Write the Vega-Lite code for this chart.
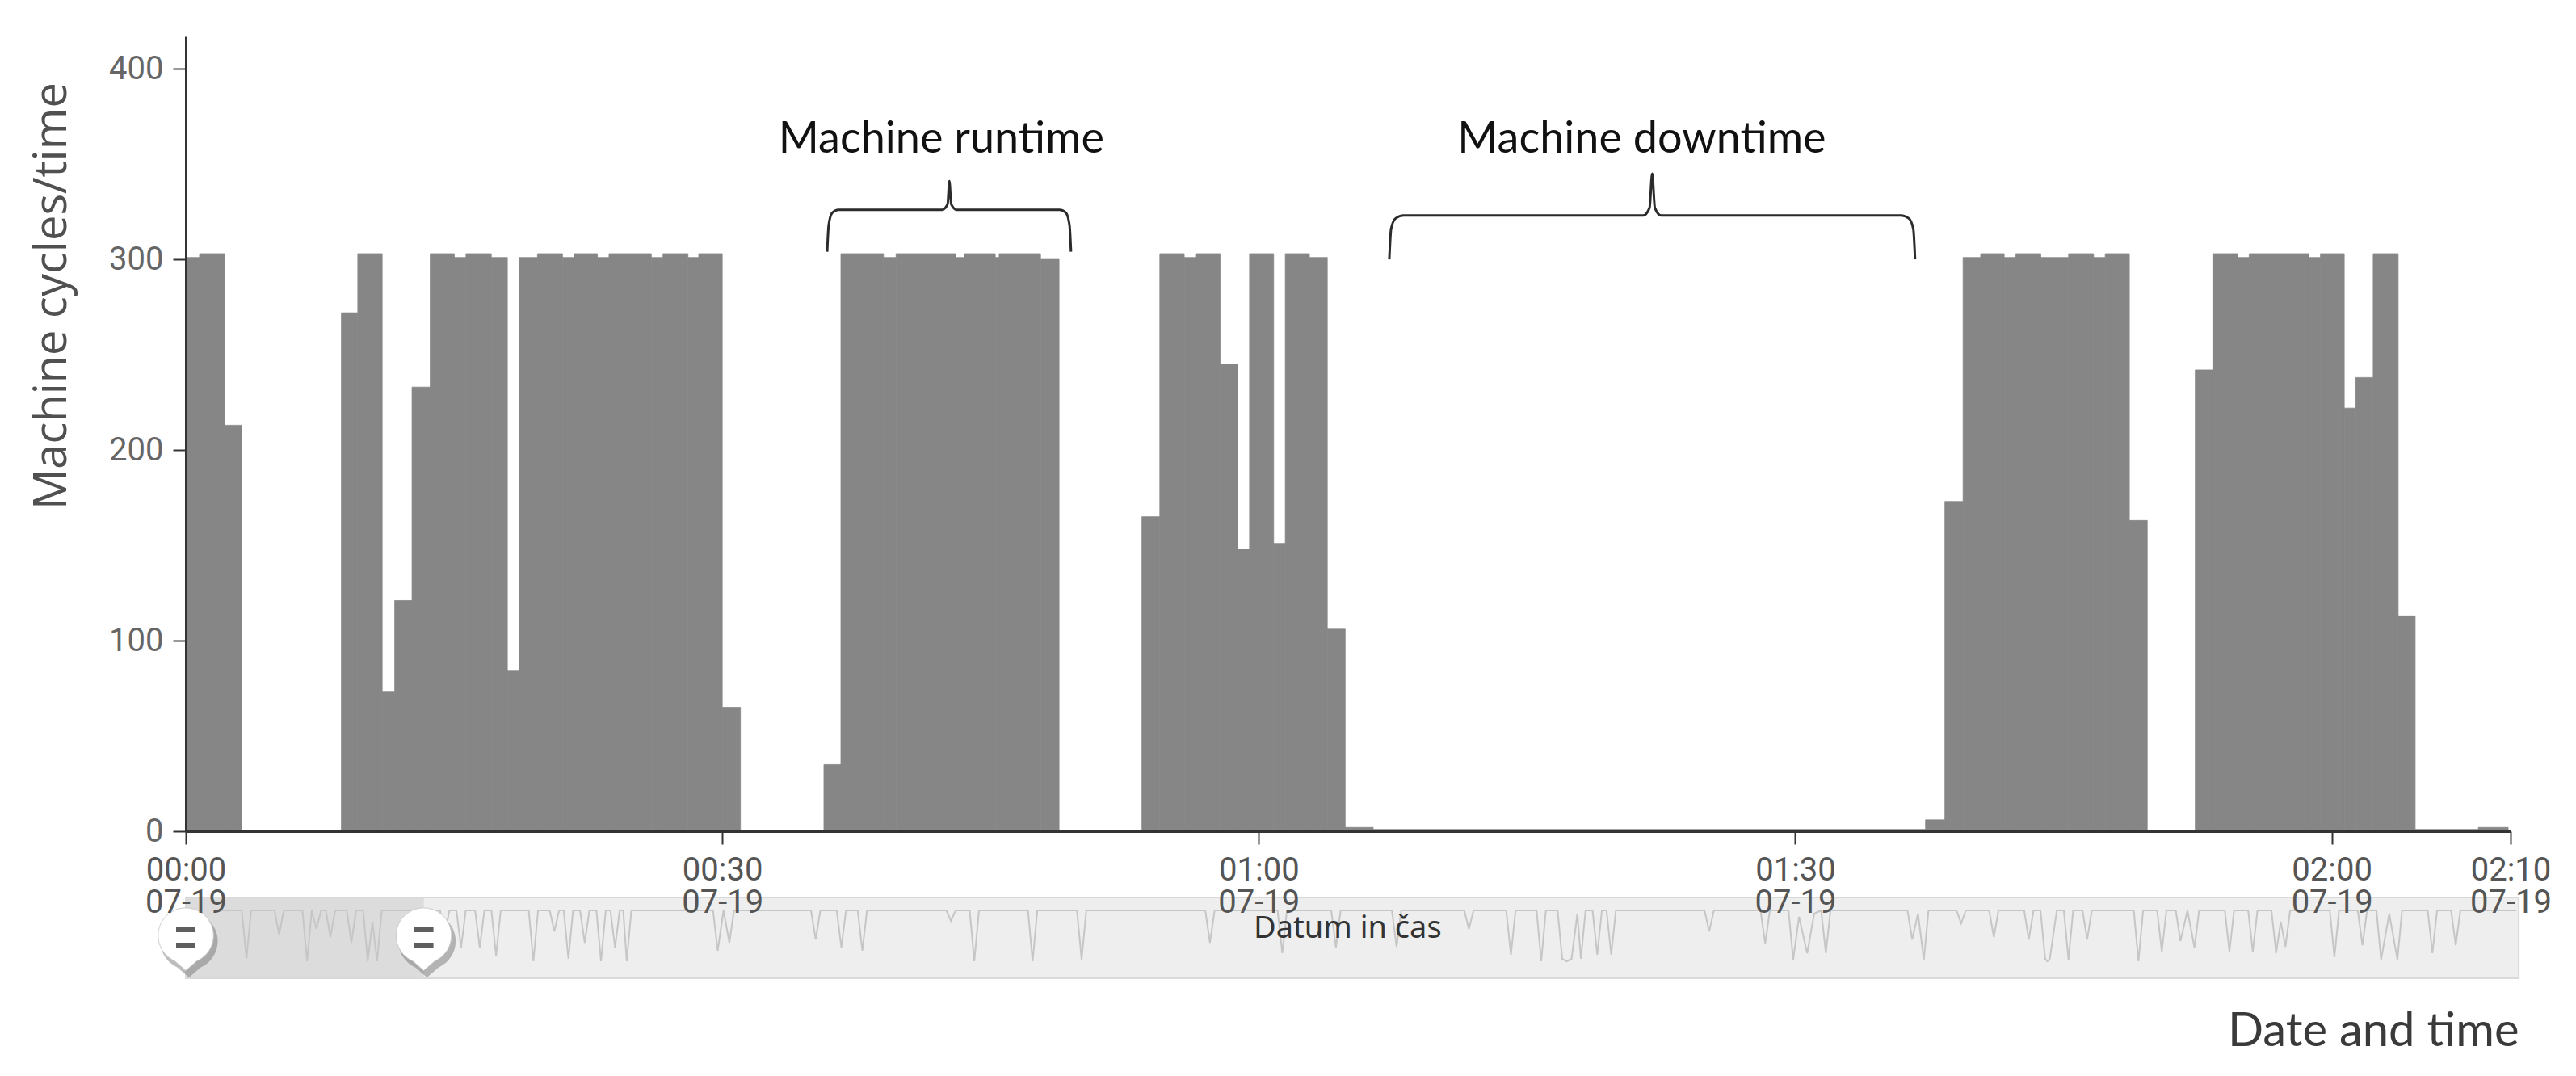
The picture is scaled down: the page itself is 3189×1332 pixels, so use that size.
{
  "$schema": "https://vega.github.io/schema/vega-lite/v6.json",
  "autosize": {"type": "none"},
  "padding": {"left": 230, "top": 45, "right": 81, "bottom": 303},
  "width": 2878,
  "height": 984,
  "background": "white",
  "config": {"view": {"stroke": null}},
  "datasets": {
    "bars": [
      {"start": "2021-07-19T00:00:00", "end": "2021-07-19T00:00:46", "value": 301},
      {"start": "2021-07-19T00:00:46", "end": "2021-07-19T00:02:10", "value": 303},
      {"start": "2021-07-19T00:02:10", "end": "2021-07-19T00:03:08", "value": 213},
      {"start": "2021-07-19T00:08:42", "end": "2021-07-19T00:09:37", "value": 272},
      {"start": "2021-07-19T00:09:37", "end": "2021-07-19T00:10:59", "value": 303},
      {"start": "2021-07-19T00:10:59", "end": "2021-07-19T00:11:41", "value": 73},
      {"start": "2021-07-19T00:11:41", "end": "2021-07-19T00:12:39", "value": 121},
      {"start": "2021-07-19T00:12:39", "end": "2021-07-19T00:13:40", "value": 233},
      {"start": "2021-07-19T00:13:40", "end": "2021-07-19T00:15:01", "value": 303},
      {"start": "2021-07-19T00:15:01", "end": "2021-07-19T00:15:40", "value": 301},
      {"start": "2021-07-19T00:15:40", "end": "2021-07-19T00:17:05", "value": 303},
      {"start": "2021-07-19T00:17:05", "end": "2021-07-19T00:17:59", "value": 301},
      {"start": "2021-07-19T00:17:59", "end": "2021-07-19T00:18:39", "value": 84},
      {"start": "2021-07-19T00:18:39", "end": "2021-07-19T00:19:40", "value": 301},
      {"start": "2021-07-19T00:19:40", "end": "2021-07-19T00:21:04", "value": 303},
      {"start": "2021-07-19T00:21:04", "end": "2021-07-19T00:21:43", "value": 301},
      {"start": "2021-07-19T00:21:43", "end": "2021-07-19T00:23:01", "value": 303},
      {"start": "2021-07-19T00:23:01", "end": "2021-07-19T00:23:40", "value": 301},
      {"start": "2021-07-19T00:23:40", "end": "2021-07-19T00:26:02", "value": 303},
      {"start": "2021-07-19T00:26:02", "end": "2021-07-19T00:26:41", "value": 301},
      {"start": "2021-07-19T00:26:41", "end": "2021-07-19T00:28:05", "value": 303},
      {"start": "2021-07-19T00:28:05", "end": "2021-07-19T00:28:41", "value": 301},
      {"start": "2021-07-19T00:28:41", "end": "2021-07-19T00:30:00", "value": 303},
      {"start": "2021-07-19T00:30:00", "end": "2021-07-19T00:31:01", "value": 65},
      {"start": "2021-07-19T00:35:41", "end": "2021-07-19T00:36:38", "value": 35},
      {"start": "2021-07-19T00:36:38", "end": "2021-07-19T00:39:01", "value": 303},
      {"start": "2021-07-19T00:39:01", "end": "2021-07-19T00:39:43", "value": 301},
      {"start": "2021-07-19T00:39:43", "end": "2021-07-19T00:43:04", "value": 303},
      {"start": "2021-07-19T00:43:04", "end": "2021-07-19T00:43:32", "value": 301},
      {"start": "2021-07-19T00:43:32", "end": "2021-07-19T00:45:16", "value": 303},
      {"start": "2021-07-19T00:45:16", "end": "2021-07-19T00:45:29", "value": 301},
      {"start": "2021-07-19T00:45:29", "end": "2021-07-19T00:47:48", "value": 303},
      {"start": "2021-07-19T00:47:48", "end": "2021-07-19T00:48:50", "value": 300},
      {"start": "2021-07-19T00:53:28", "end": "2021-07-19T00:54:28", "value": 165},
      {"start": "2021-07-19T00:54:28", "end": "2021-07-19T00:55:50", "value": 303},
      {"start": "2021-07-19T00:55:50", "end": "2021-07-19T00:56:28", "value": 301},
      {"start": "2021-07-19T00:56:28", "end": "2021-07-19T00:57:51", "value": 303},
      {"start": "2021-07-19T00:57:51", "end": "2021-07-19T00:58:50", "value": 245},
      {"start": "2021-07-19T00:58:50", "end": "2021-07-19T00:59:29", "value": 148},
      {"start": "2021-07-19T00:59:29", "end": "2021-07-19T01:00:50", "value": 303},
      {"start": "2021-07-19T01:00:50", "end": "2021-07-19T01:01:29", "value": 151},
      {"start": "2021-07-19T01:01:29", "end": "2021-07-19T01:02:50", "value": 303},
      {"start": "2021-07-19T01:02:50", "end": "2021-07-19T01:03:50", "value": 301},
      {"start": "2021-07-19T01:03:50", "end": "2021-07-19T01:04:50", "value": 106},
      {"start": "2021-07-19T01:04:50", "end": "2021-07-19T01:06:24", "value": 2},
      {"start": "2021-07-19T01:06:24", "end": "2021-07-19T01:37:17", "value": 1},
      {"start": "2021-07-19T01:37:17", "end": "2021-07-19T01:38:22", "value": 6},
      {"start": "2021-07-19T01:38:22", "end": "2021-07-19T01:39:23", "value": 173},
      {"start": "2021-07-19T01:39:23", "end": "2021-07-19T01:40:22", "value": 301},
      {"start": "2021-07-19T01:40:22", "end": "2021-07-19T01:41:41", "value": 303},
      {"start": "2021-07-19T01:41:41", "end": "2021-07-19T01:42:20", "value": 301},
      {"start": "2021-07-19T01:42:20", "end": "2021-07-19T01:43:44", "value": 303},
      {"start": "2021-07-19T01:43:44", "end": "2021-07-19T01:45:17", "value": 301},
      {"start": "2021-07-19T01:45:17", "end": "2021-07-19T01:46:41", "value": 303},
      {"start": "2021-07-19T01:46:41", "end": "2021-07-19T01:47:20", "value": 301},
      {"start": "2021-07-19T01:47:20", "end": "2021-07-19T01:48:41", "value": 303},
      {"start": "2021-07-19T01:48:41", "end": "2021-07-19T01:49:41", "value": 163},
      {"start": "2021-07-19T01:52:22", "end": "2021-07-19T01:53:21", "value": 242},
      {"start": "2021-07-19T01:53:21", "end": "2021-07-19T01:54:45", "value": 303},
      {"start": "2021-07-19T01:54:45", "end": "2021-07-19T01:55:23", "value": 301},
      {"start": "2021-07-19T01:55:23", "end": "2021-07-19T01:58:43", "value": 303},
      {"start": "2021-07-19T01:58:43", "end": "2021-07-19T01:59:22", "value": 301},
      {"start": "2021-07-19T01:59:22", "end": "2021-07-19T02:00:42", "value": 303},
      {"start": "2021-07-19T02:00:42", "end": "2021-07-19T02:01:20", "value": 222},
      {"start": "2021-07-19T02:01:20", "end": "2021-07-19T02:02:19", "value": 238},
      {"start": "2021-07-19T02:02:19", "end": "2021-07-19T02:03:43", "value": 303},
      {"start": "2021-07-19T02:03:43", "end": "2021-07-19T02:04:40", "value": 113},
      {"start": "2021-07-19T02:04:40", "end": "2021-07-19T02:08:12", "value": 1},
      {"start": "2021-07-19T02:08:12", "end": "2021-07-19T02:09:52", "value": 2}
    ],
    "braces": [
      {"b": "run", "t": "2021-07-19T00:35:52", "v": 304},
      {"b": "run", "t": "2021-07-19T00:35:57", "v": 318},
      {"b": "run", "t": "2021-07-19T00:36:09", "v": 324.5},
      {"b": "run", "t": "2021-07-19T00:36:30", "v": 326},
      {"b": "run", "t": "2021-07-19T00:42:18", "v": 326},
      {"b": "run", "t": "2021-07-19T00:42:36", "v": 329},
      {"b": "run", "t": "2021-07-19T00:42:42", "v": 341},
      {"b": "run", "t": "2021-07-19T00:42:48", "v": 329},
      {"b": "run", "t": "2021-07-19T00:43:06", "v": 326},
      {"b": "run", "t": "2021-07-19T00:48:52", "v": 326},
      {"b": "run", "t": "2021-07-19T00:49:13", "v": 324.5},
      {"b": "run", "t": "2021-07-19T00:49:25", "v": 318},
      {"b": "run", "t": "2021-07-19T00:49:30", "v": 304},
      {"b": "down", "t": "2021-07-19T01:07:18", "v": 300},
      {"b": "down", "t": "2021-07-19T01:07:24", "v": 316},
      {"b": "down", "t": "2021-07-19T01:07:39", "v": 321.5},
      {"b": "down", "t": "2021-07-19T01:08:06", "v": 323},
      {"b": "down", "t": "2021-07-19T01:21:30", "v": 323},
      {"b": "down", "t": "2021-07-19T01:21:51", "v": 327},
      {"b": "down", "t": "2021-07-19T01:22:00", "v": 345},
      {"b": "down", "t": "2021-07-19T01:22:09", "v": 327},
      {"b": "down", "t": "2021-07-19T01:22:30", "v": 323},
      {"b": "down", "t": "2021-07-19T01:35:54", "v": 323},
      {"b": "down", "t": "2021-07-19T01:36:21", "v": 321.5},
      {"b": "down", "t": "2021-07-19T01:36:36", "v": 316},
      {"b": "down", "t": "2021-07-19T01:36:42", "v": 300}
    ],
    "notes": [
      {"label": "Machine runtime", "t": "2021-07-19T00:42:15", "v": 356},
      {"label": "Machine downtime", "t": "2021-07-19T01:21:25", "v": 356}
    ],
    "handles": [{"p": 0}, {"p": 10.2}],
    "spark": [
      {"p":1.2,"s":84},{"p":2.4,"s":84},{"p":2.6,"s":24},{"p":2.8,"s":84},{"p":3.8,"s":84},{"p":4.0,"s":54},{"p":4.2,"s":84},
      {"p":5.0,"s":84},{"p":5.2,"s":21},{"p":5.4,"s":84},{"p":5.6,"s":61},{"p":5.8,"s":84},{"p":6.0,"s":84},{"p":6.2,"s":51},{"p":6.4,"s":84},
      {"p":6.9,"s":84},{"p":7.1,"s":44},{"p":7.3,"s":84},{"p":7.6,"s":84},{"p":7.8,"s":21},{"p":8.0,"s":70},{"p":8.2,"s":21},{"p":8.4,"s":84},
      {"p":10.9,"s":84},{"p":11.1,"s":54},{"p":11.3,"s":84},{"p":11.6,"s":84},{"p":11.8,"s":38},{"p":12.0,"s":84},{"p":12.4,"s":84},{"p":12.6,"s":38},{"p":12.8,"s":84},
      {"p":13.1,"s":84},{"p":13.3,"s":28},{"p":13.5,"s":84},{"p":14.7,"s":84},{"p":14.9,"s":21},{"p":15.1,"s":84},{"p":15.6,"s":84},{"p":15.8,"s":58},{"p":16.0,"s":84},
      {"p":16.2,"s":84},{"p":16.4,"s":24},{"p":16.6,"s":84},{"p":16.9,"s":84},{"p":17.1,"s":44},{"p":17.3,"s":84},{"p":17.6,"s":84},{"p":17.8,"s":21},{"p":18.0,"s":84},
      {"p":18.2,"s":84},{"p":18.4,"s":38},{"p":18.6,"s":84},{"p":18.75,"s":84},{"p":18.9,"s":21},{"p":19.1,"s":84},
      {"p":22.6,"s":84},{"p":22.8,"s":34},{"p":23.05,"s":84},{"p":23.3,"s":44},{"p":23.5,"s":84},
      {"p":26.8,"s":84},{"p":27.0,"s":48},{"p":27.2,"s":84},{"p":27.9,"s":84},{"p":28.1,"s":38},{"p":28.3,"s":84},{"p":28.8,"s":84},{"p":29.0,"s":34},{"p":29.2,"s":84},
      {"p":32.6,"s":84},{"p":32.8,"s":71},{"p":33.0,"s":84},{"p":33.6,"s":84},{"p":33.8,"s":21},{"p":34.0,"s":84},{"p":36.1,"s":84},{"p":36.3,"s":21},{"p":36.5,"s":84},
      {"p":38.2,"s":84},{"p":38.4,"s":23},{"p":38.6,"s":84},{"p":43.7,"s":84},{"p":43.9,"s":44},{"p":44.1,"s":84},{"p":46.8,"s":84},{"p":47.0,"s":31},{"p":47.2,"s":84},
      {"p":49.1,"s":84},{"p":49.3,"s":38},{"p":49.5,"s":84},{"p":51.7,"s":84},{"p":51.9,"s":39},{"p":52.1,"s":84},{"p":54.8,"s":84},{"p":55.0,"s":61},{"p":55.2,"s":84},
      {"p":56.6,"s":84},{"p":56.8,"s":29},{"p":57.0,"s":84},{"p":57.9,"s":84},{"p":58.1,"s":21},{"p":58.3,"s":84},
      {"p":58.8,"s":84},{"p":59.0,"s":24},{"p":59.2,"s":21},{"p":59.4,"s":24},{"p":59.65,"s":80},{"p":59.8,"s":24},{"p":60.0,"s":84},
      {"p":60.3,"s":84},{"p":60.5,"s":29},{"p":60.7,"s":84},{"p":60.9,"s":84},{"p":61.1,"s":29},{"p":61.3,"s":84},
      {"p":65.1,"s":84},{"p":65.3,"s":58},{"p":65.5,"s":84},{"p":67.5,"s":84},{"p":67.7,"s":43},{"p":67.9,"s":84},
      {"p":68.7,"s":84},{"p":68.9,"s":23},{"p":69.15,"s":76},{"p":69.5,"s":31},{"p":69.8,"s":80},{"p":70.1,"s":84},{"p":70.3,"s":31},{"p":70.5,"s":84},
      {"p":73.8,"s":84},{"p":74.0,"s":48},{"p":74.25,"s":80},{"p":74.5,"s":23},{"p":74.7,"s":84},{"p":75.9,"s":84},{"p":76.1,"s":68},{"p":76.3,"s":84},
      {"p":77.3,"s":84},{"p":77.5,"s":51},{"p":77.7,"s":84},{"p":78.8,"s":84},{"p":79.0,"s":48},{"p":79.2,"s":84},
      {"p":79.5,"s":84},{"p":79.7,"s":24},{"p":79.8,"s":21},{"p":79.9,"s":24},{"p":80.2,"s":84},{"p":80.5,"s":84},{"p":80.7,"s":23},{"p":80.9,"s":84},
      {"p":81.3,"s":84},{"p":81.5,"s":48},{"p":81.7,"s":84},{"p":83.5,"s":84},{"p":83.7,"s":21},{"p":83.9,"s":84},{"p":84.5,"s":84},{"p":84.7,"s":33},{"p":84.9,"s":84},
      {"p":85.3,"s":84},{"p":85.5,"s":46},{"p":85.8,"s":84},{"p":86.1,"s":38},{"p":86.3,"s":84},{"p":87.4,"s":84},{"p":87.6,"s":33},{"p":87.8,"s":84},
      {"p":88.4,"s":84},{"p":88.6,"s":33},{"p":88.8,"s":84},{"p":89.4,"s":84},{"p":89.6,"s":31},{"p":89.8,"s":70},{"p":90.0,"s":39},{"p":90.2,"s":84},
      {"p":91.9,"s":84},{"p":92.1,"s":26},{"p":92.3,"s":84},{"p":93.1,"s":84},{"p":93.3,"s":41},{"p":93.5,"s":84},
      {"p":93.9,"s":84},{"p":94.1,"s":23},{"p":94.45,"s":80},{"p":94.8,"s":23},{"p":95.0,"s":84},{"p":96.1,"s":84},{"p":96.3,"s":31},{"p":96.5,"s":84},
      {"p":97.1,"s":84},{"p":97.3,"s":41},{"p":97.5,"s":84},{"p":99.9,"s":84}
    ]
  },
  "layer": [
    {
      "layer": [
        {
          "data": {"values": [{}]},
          "mark": {"type": "rect", "fill": "#eeeeee", "stroke": "#d9d9d9", "strokeWidth": 2},
          "encoding": {
            "x": {"datum": 0, "type": "quantitative", "scale": {"domain": [0, 99.65], "nice": false, "zero": false}, "axis": null},
            "x2": {"datum": 100},
            "y": {"datum": 0, "type": "quantitative", "scale": {"domain": [182, 1166], "nice": false, "zero": false}, "axis": null},
            "y2": {"datum": 100}
          }
        },
        {
          "data": {"values": [{}]},
          "mark": {"type": "rect", "fill": "#dcdcdc"},
          "encoding": {
            "x": {"datum": 0, "type": "quantitative"},
            "x2": {"datum": 10.2},
            "y": {"datum": 1, "type": "quantitative"},
            "y2": {"datum": 99}
          }
        },
        {
          "data": {"name": "spark"},
          "mark": {"type": "line", "color": "#c6c6c6", "strokeWidth": 2},
          "encoding": {
            "x": {"field": "p", "type": "quantitative"},
            "y": {"field": "s", "type": "quantitative"}
          }
        },
        {
          "data": {"values": [{}]},
          "mark": {"type": "text", "text": "Datum in čas", "font": "Noto Sans", "fontSize": 38, "color": "#333333", "align": "center", "baseline": "middle"},
          "encoding": {
            "x": {"datum": 49.8, "type": "quantitative"},
            "y": {"datum": 61, "type": "quantitative"}
          }
        },
        {
          "data": {"name": "handles"},
          "mark": {"type": "point", "shape": "M 0 1.15 L -0.38 0.82 A 0.95 0.95 0 1 1 0.38 0.82 Z", "filled": true, "fill": "#6a6a6a", "opacity": 0.45, "size": 5600, "xOffset": 4, "yOffset": 7, "strokeWidth": 0},
          "encoding": {
            "x": {"field": "p", "type": "quantitative"},
            "y": {"datum": 51, "type": "quantitative"}
          }
        },
        {
          "data": {"name": "handles"},
          "mark": {"type": "point", "shape": "M 0 1.15 L -0.38 0.82 A 0.95 0.95 0 1 1 0.38 0.82 Z", "filled": true, "fill": "#ffffff", "opacity": 1, "stroke": "#cccccc", "strokeWidth": 1, "size": 5200},
          "encoding": {
            "x": {"field": "p", "type": "quantitative"},
            "y": {"datum": 51, "type": "quantitative"}
          }
        },
        {
          "data": {"name": "handles"},
          "mark": {"type": "tick", "orient": "horizontal", "color": "#5e5e5e", "size": 24, "thickness": 6, "yOffset": -9, "opacity": 1},
          "encoding": {
            "x": {"field": "p", "type": "quantitative"},
            "y": {"datum": 51, "type": "quantitative"}
          }
        },
        {
          "data": {"name": "handles"},
          "mark": {"type": "tick", "orient": "horizontal", "color": "#5e5e5e", "size": 24, "thickness": 6, "yOffset": 10, "opacity": 1},
          "encoding": {
            "x": {"field": "p", "type": "quantitative"},
            "y": {"datum": 51, "type": "quantitative"}
          }
        }
      ]
    },
    {
      "layer": [
        {
          "data": {"name": "bars"},
          "mark": {"type": "rect", "color": "#868686", "stroke": "#868686", "strokeWidth": 0.8},
          "encoding": {
            "x": {
              "field": "start", "type": "temporal",
              "scale": {"domain": [{"year": 2021, "month": 7, "date": 19, "hours": 0, "minutes": 0}, {"year": 2021, "month": 7, "date": 19, "hours": 2, "minutes": 10}], "nice": false},
              "axis": {
                "orient": "bottom",
                "values": [
                  {"year": 2021, "month": 7, "date": 19, "hours": 0, "minutes": 0},
                  {"year": 2021, "month": 7, "date": 19, "hours": 0, "minutes": 30},
                  {"year": 2021, "month": 7, "date": 19, "hours": 1, "minutes": 0},
                  {"year": 2021, "month": 7, "date": 19, "hours": 1, "minutes": 30},
                  {"year": 2021, "month": 7, "date": 19, "hours": 2, "minutes": 0},
                  {"year": 2021, "month": 7, "date": 19, "hours": 2, "minutes": 10}
                ],
                "labelExpr": "[timeFormat(datum.value, '%H:%M'), timeFormat(datum.value, '%m-%d')]",
                "labelFont": "Roboto", "labelFontSize": 40, "labelColor": "#555555", "labelLineHeight": 40, "labelPadding": 12,
                "labelOverlap": false, "labelFlush": false, "labelBound": false,
                "tickSize": 16, "tickWidth": 2, "tickColor": "#333333",
                "domainColor": "#333333", "domainWidth": 3, "grid": false, "zindex": 1,
                "title": "Date and time", "titleX": 2888, "titleY": 265, "titleAlign": "right", "titleBaseline": "alphabetic",
                "titleFont": "Lato", "titleFontSize": 58, "titleFontWeight": "normal", "titleColor": "#3a3a3a"
              }
            },
            "x2": {"field": "end"},
            "y": {
              "field": "value", "type": "quantitative",
              "scale": {"domain": [0, 417], "nice": false},
              "axis": {
                "orient": "left",
                "values": [0, 100, 200, 300, 400],
                "labelFont": "Roboto", "labelFontSize": 40, "labelColor": "#666666", "labelPadding": 12,
                "tickSize": 16, "tickWidth": 2, "tickColor": "#333333",
                "domainColor": "#333333", "domainWidth": 3, "grid": false, "zindex": 1,
                "title": "Machine cycles/time", "titleFont": "Open Sans", "titleFontSize": 56, "titleFontWeight": "normal",
                "titleColor": "#505050", "titleX": -166, "titleY": 321, "titleAngle": -90, "titleBaseline": "middle", "titleAlign": "center"
              }
            },
            "y2": {"datum": 0}
          }
        },
        {
          "data": {"name": "braces"},
          "mark": {"type": "line", "interpolate": "monotone", "color": "#2b2b2b", "strokeWidth": 3},
          "encoding": {
            "x": {"field": "t", "type": "temporal"},
            "y": {"field": "v", "type": "quantitative"},
            "detail": {"field": "b"}
          }
        },
        {
          "data": {"name": "notes"},
          "mark": {"type": "text", "font": "Lato", "fontSize": 54, "color": "#111111", "align": "center", "baseline": "alphabetic"},
          "encoding": {
            "x": {"field": "t", "type": "temporal"},
            "y": {"field": "v", "type": "quantitative"},
            "text": {"field": "label"}
          }
        }
      ]
    }
  ],
  "resolve": {"scale": {"x": "independent", "y": "independent"}, "axis": {"x": "independent", "y": "independent"}}
}
